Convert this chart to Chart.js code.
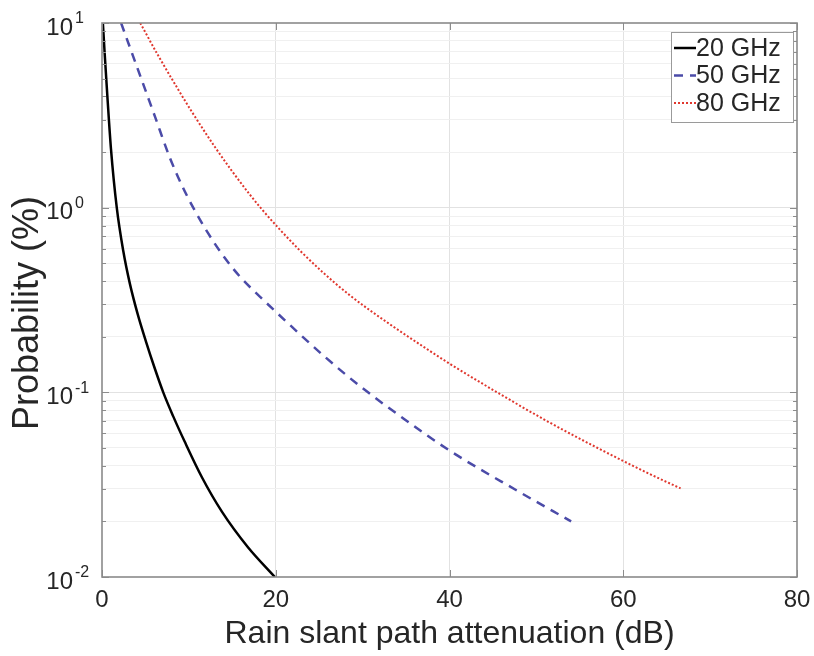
<!DOCTYPE html>
<html>
<head>
<meta charset="utf-8">
<title>Rain slant path attenuation</title>
<script src="https://cdn.jsdelivr.net/npm/chart.js@4.4.1/dist/chart.umd.min.js"></script>
<style>
  html, body { margin: 0; padding: 0; background: #ffffff; }
  #wrap { width: 814px; height: 656px; position: relative; }
</style>
</head>
<body>
<div id="wrap"><canvas id="chart"></canvas></div>
<script>
// Exceedance probability (%) versus rain attenuation (dB) on a slant path
const seriesNames = ['20 GHz', '50 GHz', '80 GHz'];

const att20  = [0.1, 0.3, 0.65, 1.03, 1.7, 2.45, 3.2, 4.1, 5.1, 6.0, 7.05, 8.2, 9.5, 11.5, 13.8, 16.8, 19.9];
const prob20 = [10, 6.92, 3.80, 2.09, 1.0, 0.582, 0.389, 0.266, 0.186, 0.138, 0.1, 0.0741, 0.0543, 0.0347, 0.0226, 0.0145, 0.01];

const att50  = [2.2, 4.0, 6.1, 7.8, 9.2, 10.5, 12.3, 14.1, 16.0, 18.2, 21.4, 25.5, 29.7, 34.5, 40.0, 47.7, 54.0];
const prob50 = [10, 5.83, 3.11, 1.87, 1.32, 1.0, 0.716, 0.537, 0.417, 0.329, 0.237, 0.158, 0.108, 0.0733, 0.0484, 0.0295, 0.02];

const att80  = [4.4, 6.5, 8.7, 10.3, 13.0, 15.0, 17.0, 18.4, 20.5, 22.8, 25.5, 28.5, 33.0, 37.7, 40.0, 45.7, 51.5, 57.0, 63.0, 66.6];
const prob80 = [10, 6.62, 4.42, 3.33, 2.13, 1.57, 1.18, 0.98, 0.759, 0.585, 0.443, 0.336, 0.236, 0.168, 0.143, 0.0986, 0.0687, 0.0501, 0.0362, 0.0302];

const xTickValues = [0, 20, 40, 60, 80];
const yDecadeExponents = [-2, -1, 0, 1];

const FONT = '"Liberation Sans", Arial, Helvetica, sans-serif';
const TEXT_COLOR = '#262626';
const Y_TITLE = 'Probability (%)';

function toPoints(xs, ys) {
  return xs.map((x, i) => ({ x: x, y: ys[i] }));
}

function isDecade(v) {
  const e = Math.log10(v);
  return Math.abs(e - Math.round(e)) < 1e-9;
}

// Gridline values for the log axis: 1..9 in each decade plus the top decade
function logTickValues() {
  const vals = [];
  for (let i = 0; i < yDecadeExponents.length - 1; i++) {
    const base = Math.pow(10, yDecadeExponents[i]);
    for (let m = 1; m <= 9; m++) vals.push(+(m * base).toPrecision(6));
  }
  vals.push(Math.pow(10, yDecadeExponents[yDecadeExponents.length - 1]));
  return vals;
}

// Frame, inward tick marks, power-of-ten labels and the value-axis title
const axesFramePlugin = {
  id: 'axesFrame',
  afterDraw(chart) {
    const { ctx, chartArea: a, scales } = chart;
    const xs = scales.x, ys = scales.y;
    ctx.save();

    // inward ticks
    ctx.strokeStyle = '#8c8c8c';
    ctx.lineWidth = 1;
    ctx.beginPath();
    xTickValues.forEach(v => {
      const px = Math.round(xs.getPixelForValue(v)) + 0.5;
      ctx.moveTo(px, a.bottom); ctx.lineTo(px, a.bottom - 7);
      ctx.moveTo(px, a.top); ctx.lineTo(px, a.top + 7);
    });
    logTickValues().forEach(v => {
      const py = Math.round(ys.getPixelForValue(v)) + 0.5;
      const len = isDecade(v) ? 7 : 4;
      ctx.moveTo(a.left, py); ctx.lineTo(a.left + len, py);
      ctx.moveTo(a.right, py); ctx.lineTo(a.right - len, py);
    });
    ctx.stroke();

    // box
    ctx.strokeStyle = '#8a8a8a';
    ctx.lineWidth = 1.6;
    ctx.strokeRect(a.left, a.top, a.right - a.left, a.bottom - a.top);

    // 10^n labels
    ctx.fillStyle = TEXT_COLOR;
    ctx.textBaseline = 'middle';
    yDecadeExponents.forEach(e => {
      const py = ys.getPixelForValue(Math.pow(10, e));
      ctx.font = '24px ' + FONT;
      ctx.textAlign = 'right';
      ctx.fillText('10', 73, py + 5);
      ctx.font = '16px ' + FONT;
      ctx.textAlign = 'left';
      ctx.fillText(String(e), 75, py - 4);
    });

    // value-axis title
    ctx.save();
    ctx.translate(28, (a.top + a.bottom) / 2 + 13);
    ctx.rotate(-Math.PI / 2);
    ctx.font = '36px ' + FONT;
    ctx.textAlign = 'center';
    ctx.textBaseline = 'middle';
    ctx.fillText(Y_TITLE, 0, 0);
    ctx.restore();

    ctx.restore();
  }
};

// Boxed legend in the upper-right corner of the plot area
const cornerLegendPlugin = {
  id: 'cornerLegend',
  afterDraw(chart) {
    const { ctx, chartArea: a } = chart;
    const boxW = 122, boxH = 90;
    const bx = a.right - 4 - boxW, by = a.top + 9;
    ctx.save();
    ctx.fillStyle = '#ffffff';
    ctx.fillRect(bx, by, boxW, boxH);
    ctx.strokeStyle = '#9a9a9a';
    ctx.lineWidth = 1;
    ctx.strokeRect(bx + 0.5, by + 0.5, boxW, boxH);
    ctx.font = '25px ' + FONT;
    ctx.textBaseline = 'middle';
    ctx.textAlign = 'left';
    chart.data.datasets.forEach((ds, i) => {
      const cy = by + 16 + i * 27.5;
      ctx.strokeStyle = ds.borderColor;
      ctx.lineWidth = ds.borderWidth;
      ctx.setLineDash(ds.borderDash || []);
      ctx.beginPath();
      ctx.moveTo(bx + 3, cy);
      ctx.lineTo(bx + 25, cy);
      ctx.stroke();
      ctx.setLineDash([]);
      ctx.fillStyle = TEXT_COLOR;
      ctx.fillText(ds.label, bx + 25, cy + 1);
    });
    ctx.restore();
  }
};

const ctx = document.getElementById('chart').getContext('2d');
new Chart(ctx, {
  type: 'line',
  data: {
    datasets: [
      {
        label: seriesNames[0],
        data: toPoints(att20, prob20),
        borderColor: '#000000',
        borderWidth: 2.5,
        pointRadius: 0,
        cubicInterpolationMode: 'monotone',
        fill: false
      },
      {
        label: seriesNames[1],
        data: toPoints(att50, prob50),
        borderColor: '#4b4ba8',
        borderWidth: 2.5,
        borderDash: [9, 7],
        pointRadius: 0,
        cubicInterpolationMode: 'monotone',
        fill: false
      },
      {
        label: seriesNames[2],
        data: toPoints(att80, prob80),
        borderColor: '#e0372e',
        borderWidth: 2,
        borderDash: [2, 2],
        pointRadius: 0,
        cubicInterpolationMode: 'monotone',
        fill: false
      }
    ]
  },
  options: {
    responsive: true,
    maintainAspectRatio: false,
    animation: false,
    devicePixelRatio: 1,
    layout: { padding: { top: 23, right: 17, left: 0, bottom: 0 } },
    plugins: {
      legend: { display: false },
      tooltip: { enabled: false }
    },
    scales: {
      x: {
        type: 'linear',
        min: 0,
        max: 80,
        afterBuildTicks: s => { s.ticks = xTickValues.map(v => ({ value: v })); },
        afterFit: s => { s.height = 79; s.paddingLeft = 0; s.paddingRight = 0; },
        border: { display: false },
        grid: {
          drawTicks: false,
          lineWidth: 1,
          color: c => (c.tick && (c.tick.value === 0 || c.tick.value === 80)) ? 'rgba(0,0,0,0)' : '#e2e2e2'
        },
        ticks: {
          autoSkip: false,
          maxRotation: 0,
          padding: 9,
          color: TEXT_COLOR,
          font: { family: FONT, size: 24 }
        },
        title: {
          display: true,
          text: 'Rain slant path attenuation (dB)',
          color: TEXT_COLOR,
          font: { family: FONT, size: 32 },
          padding: { top: 0, bottom: 3 }
        }
      },
      y: {
        type: 'logarithmic',
        min: 0.01,
        max: 10,
        afterBuildTicks: s => { s.ticks = logTickValues().map(v => ({ value: v })); },
        afterFit: s => { s.width = 102; s.paddingTop = 0; s.paddingBottom = 0; },
        border: { display: false },
        grid: {
          drawTicks: false,
          lineWidth: 1,
          color: c => {
            const v = c.tick ? c.tick.value : 0;
            if (v <= 0.01 || v >= 10) return 'rgba(0,0,0,0)';
            return isDecade(v) ? '#e2e2e2' : '#f0f0f0';
          }
        },
        ticks: { display: false },
        title: { display: false }
      }
    }
  },
  plugins: [axesFramePlugin, cornerLegendPlugin]
});
</script>
</body>
</html>
